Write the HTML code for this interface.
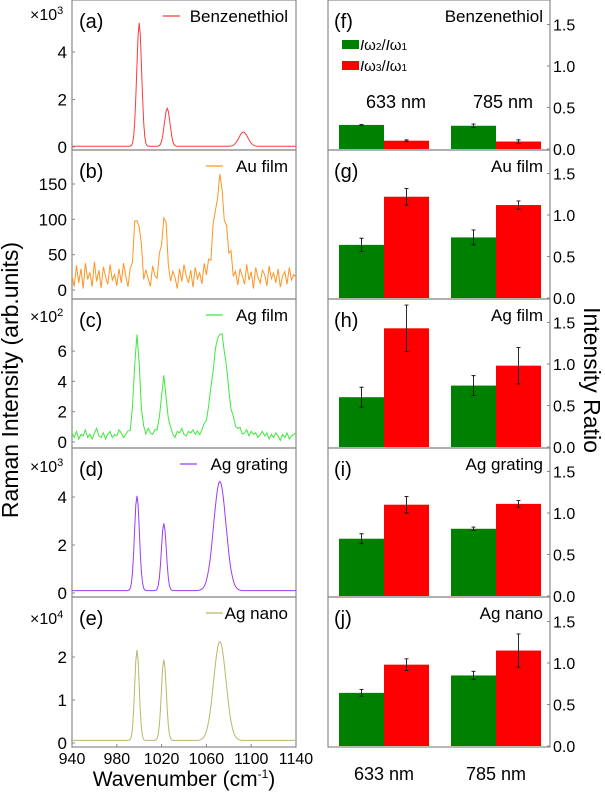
<!DOCTYPE html>
<html><head><meta charset="utf-8">
<style>
html,body{margin:0;padding:0;background:#fff;}
svg{display:block;font-family:"Liberation Sans",sans-serif;}
</style></head>
<body>
<svg id="fig" width="605" height="793" viewBox="0 0 605 793" xmlns="http://www.w3.org/2000/svg">
<defs>
<clipPath id="clipL"><rect x="72" y="0" width="224" height="747"/></clipPath>
</defs>
<g id="left"></g>
<g id="right"></g>
<text x="18" y="380" font-size="23" text-anchor="middle" transform="rotate(-90 18 380)">Raman Intensity (arb.units)</text>
<text x="584" y="380" font-size="23" text-anchor="middle" transform="rotate(90 584 380)">Intensity Ratio</text>
<text x="184" y="786" font-size="21" text-anchor="middle">Wavenumber (cm<tspan dy="-8" font-size="12">-1</tspan><tspan dy="8">)</tspan></text>
</svg>
<script>
// ---------- spectra data ----------
const xTicks=[940,980,1020,1060,1100,1140];
const centersA=[1000,1025,1093], heightsA=[5.2,1.6,0.6], widthsA=[2.2,2.5,4];
const centersB=[998,1022,1072], heightsB=[90,80,130], widthsB=[2.5,2.5,5];
const centersC=[998,1022,1072], heightsC=[6.3,3.5,6.7], widthsC=[2.5,2.5,6];
const centersD=[998,1022,1072], heightsD=[3.95,2.8,4.55], widthsD=[2.2,2.2,5.5];
const centersE=[998,1022,1072], heightsE=[2.1,1.88,2.3], widthsE=[2,2.2,5.5];
const noiseB=[20,5,35,10,30,2,38,15,25,5,40,12,28,3,33,18,8,36,14,22,6,30,10,38,20,4,26,14,32,8,
24,40,10,28,16,5,34,20,12,30,6,22,38,14,8,26,18,2,30,12,36,20,10,28,4,32,16,24,8,35,
14,26,6,30,18,10,34,22,4,28,16,38,12,24,6,30,20,8,36,14,26,2,32,18,10,28,22,6,34,16,
24,10,30,4,20,26,8,32,14,22,18];
const noiseC=[0.6,0.3,0.7,0.2,0.5,0.4,0.8,0.3,0.5,0.2,0.6,0.9,0.4,0.3,0.6,0.2,0.5,0.7,0.3,0.5,0.4,0.8,0.6,0.3,0.5,0.7,0.4,0.6,0.5,0.8,
0.6,0.4,0.7,0.5,0.9,0.6,0.5,0.8,0.6,0.7,0.5,0.9,0.4,0.6,0.8,0.5,0.3,0.7,0.6,0.9,0.5,0.4,0.7,0.6,0.8,0.5,0.7,0.4,0.6,0.8,
0.5,0.7,0.9,0.6,0.8,0.5,0.4,0.8,0.6,0.9,0.7,0.5,0.8,0.6,0.7,0.9,0.5,0.6,0.8,0.4,0.7,0.5,0.6,0.3,0.5,0.7,0.4,0.6,0.2,0.5,
0.3,0.6,0.4,0.1,0.5,0.3,0.6,0.2,0.4,0.5,0.6];
const baseA=0.03, baseD=0.1, baseE=0.06;
// ---------- ratio data ----------
const lasers=["633 nm","785 nm"];
const samples=["Benzenethiol","Au film","Ag film","Ag grating","Ag nano"];
const ratio2=[[0.29,0.28],[0.64,0.73],[0.60,0.74],[0.69,0.81],[0.64,0.85]];
const err2=[[0.005,0.02],[0.08,0.09],[0.12,0.12],[0.06,0.02],[0.04,0.05]];
const ratio3=[[0.10,0.09],[1.22,1.12],[1.43,0.98],[1.10,1.11],[0.98,1.15]];
const err3=[[0.01,0.02],[0.10,0.05],[0.28,0.22],[0.10,0.04],[0.07,0.20]];
const yTicksR=[0,0.5,1.0,1.5];

const NS="http://www.w3.org/2000/svg";
function mk(tag,attrs,parent,txt){const e=document.createElementNS(NS,tag);for(const k in attrs)e.setAttribute(k,attrs[k]);if(txt!==undefined)e.textContent=txt;parent.appendChild(e);return e;}
const L=document.getElementById('left'), R=document.getElementById('right');
const tops=[0,150,299,448,597], bot=747;
const xL=72,xRt=296;
const xs=w=>xL+(w-940)/200*(xRt-xL);
function gsum(w,c,h,s){let v=0;for(let i=0;i<c.length;i++)v+=h[i]*Math.exp(-((w-c[i])**2)/(2*s[i]*s[i]));return v;}

const panels=[
 {lab:"(a)",leg:"Benzenethiol",col:"#ff3b3b",c:centersA,h:heightsA,s:widthsA,base:()=>baseA,step:1,zero:147,k:23.75,ticks:[0,2,4],mult:"3",my:20},
 {lab:"(b)",leg:"Au film",col:"#ff9422",c:centersB,h:heightsB,s:widthsB,base:i=>noiseB[i],step:2,zero:290,k:0.7067,ticks:[0,50,100,150],mult:null},
 {lab:"(c)",leg:"Ag film",col:"#3fe83f",c:centersC,h:heightsC,s:widthsC,base:i=>noiseC[i],step:2,zero:442,k:15.15,ticks:[0,2,4,6],mult:"2",my:322},
 {lab:"(d)",leg:"Ag grating",col:"#9b3cf5",c:centersD,h:heightsD,s:widthsD,base:()=>baseD,step:1,zero:593,k:24,ticks:[0,2,4],mult:"3",my:472},
 {lab:"(e)",leg:"Ag nano",col:"#b8b86a",c:centersE,h:heightsE,s:widthsE,base:()=>baseE,step:1,zero:743,k:43,ticks:[0,1,2],mult:"4",my:624}
];
panels.forEach((p,pi)=>{
 const t=tops[pi], b=pi<4?tops[pi+1]:bot;
 const g=mk('g',{},L);
 
 
 const fr=mk('rect',{x:xL,y:t,width:xRt-xL,height:b-t,fill:'none',stroke:'#8a8a8a','stroke-width':1.2},g);
 
 
 let d="";
 for(let w=940,i=0;w<=1140;w+=p.step,i++){
  const v=p.base(i)+gsum(w,p.c,p.h,p.s);
  const y=p.zero-v*p.k;
  d+=(i?"L":"M")+xs(w).toFixed(1)+","+y.toFixed(1);
 }
 const ln=mk('path',{d:d,fill:'none',stroke:p.col,'stroke-width':1,'clip-path':'url(#clipL)'},g);
 
 
 p.ticks.forEach(v=>{
  const y=p.zero-v*p.k;
  mk('line',{x1:xL,x2:xL+3,y1:y,y2:y,stroke:'#8a8a8a'},g);
  const tl=mk('text',{x:67,y:y+6,'font-size':17,'text-anchor':'end'},g,String(v));
  
  
 });
 if(p.mult){const m=mk('text',{x:30,y:p.my,'font-size':16},g,"×10");mk('tspan',{dy:-6,'font-size':11},m,p.mult);
  
  }
 const pl=mk('text',{x:79,y:t+28,'font-size':20},g,p.lab);
 
 
 const lt=mk('text',{x:288,y:t+22,'font-size':17,'text-anchor':'end'},g,p.leg);
 
 
 const tw=p.leg.length*8.6;
 mk('line',{x1:288-tw-22,x2:288-tw-5,y1:t+16,y2:t+16,stroke:p.col,'stroke-width':1.2},g);
});
xTicks.forEach(v=>{
 const x=xs(v);
 mk('line',{x1:x,x2:x,y1:bot,y2:bot-3,stroke:'#8a8a8a'},L);
 const tl=mk('text',{x:x,y:764,'font-size':16,'text-anchor':'middle'},L,String(v));
 
 
});

// ---------- bars ----------
const rxL=328,rxR=550,bw=45,gc=[384,496],rk=83;
samples.forEach((s,si)=>{
 const t=tops[si], b=si<4?tops[si+1]:bot;
 const zero=b-1;
 const g=mk('g',{},R);
 
 
 const ys=v=>zero-v*rk;
 lasers.forEach((la,li)=>{
  [[ratio2,err2,'#008000',-1],[ratio3,err3,'#ff0000',0]].forEach(([rv,ev,col,off])=>{
   const v=rv[si][li], e=ev[si][li];
   const x=gc[li]+off*bw;
   const r=mk('rect',{x:x,y:ys(v),width:bw,height:zero-ys(v),fill:col},g);
   
   
   const cx=x+bw/2;
   const eb=mk('path',{d:`M${cx},${ys(v+e)}V${ys(v-e)}M${cx-2},${ys(v+e)}H${cx+2}M${cx-2},${ys(v-e)}H${cx+2}`,stroke:'#111','stroke-width':0.9,fill:'none'},g);
   
   
  });
 });
 const fr=mk('rect',{x:rxL,y:t,width:rxR-rxL,height:b-t,fill:'none',stroke:'#8a8a8a','stroke-width':1.2},g);
 
 
 yTicksR.forEach(v=>{
  const y=ys(v);
  mk('line',{x1:rxR,x2:rxR-3,y1:y,y2:y,stroke:'#8a8a8a'},g);
  const tl=mk('text',{x:553,y:y+6,'font-size':16},g,v.toFixed(1));
  
  
 });
 const pl=mk('text',{x:334,y:t+28,'font-size':20},g,"("+"fghij"[si]+")");
 
 
 const st=mk('text',{x:543,y:t+22,'font-size':17,'text-anchor':'end'},g,s);
 
 
});
// legend + laser labels in (f)
const lg=mk('g',{},R);


mk('rect',{x:342,y:40,width:17,height:9,fill:'#008000'},lg);
const l1=mk('text',{x:360,y:50,'font-size':15},lg);
l1.innerHTML='<tspan font-style="italic">I</tspan>ω<tspan font-size="10">2</tspan>/<tspan font-style="italic">I</tspan>ω<tspan font-size="10">1</tspan>';
mk('rect',{x:342,y:61,width:17,height:9,fill:'#ff0000'},lg);
const l2=mk('text',{x:360,y:71,'font-size':15},lg);
l2.innerHTML='<tspan font-style="italic">I</tspan>ω<tspan font-size="10">3</tspan>/<tspan font-style="italic">I</tspan>ω<tspan font-size="10">1</tspan>';
lasers.forEach((la,li)=>{
 const a=mk('text',{x:[396,503][li],y:108,'font-size':18,'text-anchor':'middle'},R,la);
 
 
 const b=mk('text',{x:gc[li],y:780,'font-size':18,'text-anchor':'middle'},R,la);
 
 
});
</script>
</body></html>
